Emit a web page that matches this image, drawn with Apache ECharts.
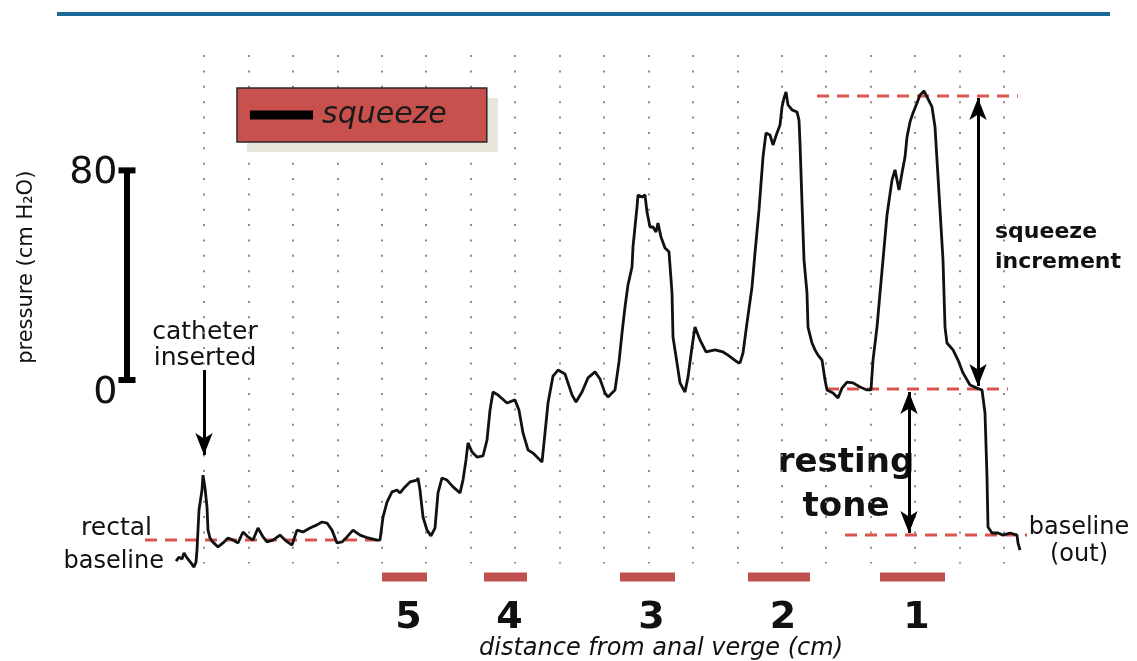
<!DOCTYPE html>
<html><head><meta charset="utf-8">
<script src="https://cdn.jsdelivr.net/npm/echarts@6/dist/echarts.min.js"></script>
<style>html,body{margin:0;padding:0;background:#fff}#c{width:1137px;height:661px}</style>
</head><body><div id="c"></div>
<script>
// pressure trace: [sample, pressure cm H2O relative to resting 0]
const trace = [
[-28,-69.1],[-25,-67.6],[-22,-68.3],[-20,-66.0],[-17,-67.9],[-15,-67.2],[-13,-69.8],[-10,-71.4],[-8,-69.5],[-7,-64.9],[-5,-49.6],[-2,-42.0],[-1,-36.3],[1,-41.2],[3,-48.5],[4,-57.3],[6,-60.3],[8,-61.5],[14,-63.7],[19,-62.2],[24,-60.3],[29,-61.1],[34,-62.2],[39,-58.0],[44,-59.9],[49,-61.1],[54,-56.5],[59,-59.9],[63,-61.8],[69,-61.1],[76,-59.2],[81,-61.1],[88,-63.0],[93,-57.3],[99,-58.0],[106,-56.5],[113,-55.3],[118,-54.2],[123,-54.6],[128,-57.3],[133,-62.2],[138,-61.8],[143,-59.9],[149,-57.3],[156,-59.2],[164,-60.3],[173,-61.1],[176,-61.1],
[179,-52.3],[183,-46.6],[188,-42.7],[193,-42.0],[196,-43.1],[201,-40.8],[206,-38.9],[213,-38.2],[214,-37.4],[216,-42.0],[219,-52.3],[223,-57.3],[227,-59.5],[231,-56.5],[234,-43.1],[238,-37.4],[243,-38.2],[249,-40.8],[256,-43.1],[259,-38.2],[262,-30.5],[264,-24.0],[268,-27.5],[273,-29.4],[279,-29.0],[283,-22.9],[286,-11.5],[289,-4.6],[294,-5.7],[303,-8.8],[311,-7.6],[315,-11.5],[319,-20.2],[324,-26.7],[329,-27.9],[338,-31.3],[340,-24.0],[344,-8.8],[349,1.5],[354,3.8],[361,2.3],[368,-5.7],[372,-8.4],[378,-4.6],[384,0.8],[391,3.1],[396,0.4],[401,-5.0],[404,-6.5],[411,-3.8],[415,6.9],[418,17.9],[421,27.9],[424,36.3],[428,43.1],[429,50.8],[431,58.4],[433,66.0],[434,70.6],[438,69.8],[441,70.6],[443,64.1],[446,58.4],[449,58.4],[452,56.5],[454,59.9],[457,54.6],[461,50.4],[465,48.9],[468,33.2],[469,16.4],[473,6.5],[476,-1.1],[481,-4.6],[484,1.1],[488,12.6],[491,20.2],[496,15.3],[502,10.7],[511,11.5],[519,10.7],[524,9.5],[533,6.9],[536,6.5],[539,10.3],[543,21.8],[548,35.5],[551,48.5],[555,64.9],[559,85.1],[562,94.3],[566,93.5],[569,89.7],[573,94.3],[576,97.3],[578,104.2],[580,107.6],[582,109.9],[584,105.0],[588,103.1],[593,102.3],[595,99.2],[596,90.5],[598,67.6],[600,45.8],[603,33.2],[604,20.2],[608,14.1],[611,11.5],[614,9.5],[618,7.6],[619,6.9],[621,0],[623,-3.8],[629,-5.0],[634,-6.9],[638,-3.1],[643,-0.8],[649,-1.1],[656,-2.7],[663,-3.8],[667,-3.8],[669,7.6],[673,20.2],[676,33.2],[679,45.8],[683,63.0],[688,76.3],[691,80.2],[695,72.5],[698,79.0],[701,85.1],[703,92.7],[706,98.5],[709,101.9],[713,105.7],[716,108.8],[720,110.3],[724,107.3],[728,104.2],[731,96.6],[733,84.0],[736,64.9],[739,45.8],[741,20.2],[743,14.1],[749,11.5],[754,7.6],[759,2.7],[766,-1.9],[773,-3.1],[778,-3.8],[781,-12.6],[783,-37.0],[784,-56.1],[788,-58.4],[794,-58.4],[799,-59.2],[806,-58.4],[813,-59.2],[814,-62.2],[816,-64.9]
];
// squeeze periods (sample ranges) and station labels (cm from anal verge)
const squeezeStart = [178, 280, 416, 544, 676];
const squeezeEnd   = [223, 323, 471, 606, 741];
const squeezeLabel = ['5', '4', '3', '2', '1'];
const squeezeLevel = -75.2;
// reference lines
const rectalBaseline  = [[-59, -61.1], [173, -61.1]];
const squeezePeakLine = [[613, 108.4], [814, 108.4]];
const restingLine     = [[623, -3.4], [804, -3.4]];
const outBaseline     = [[641, -59.2], [823, -59.2]];
// arrows
const catheterArrow   = [[0, 3.8], [0, -28.6]];
const incrementArrow  = [[774, 107.6], [774, -2.3]];
const restingArrow    = [[705, -4.6], [705, -58.4]];
// scale bar
const scaleBarX = -77;
const scaleBarTicks = [0, 80];

const FONT = 'DejaVu Sans';
const PXU = 508.3 / 194; // px per pressure unit (shared by both grids)
const chart = echarts.init(document.getElementById('c'));
const dashStyle = {color: '#d9564f', width: 3, type: [12, 8]};
function dashSeries(d) {
  return {type: 'line', xAxisIndex: 1, yAxisIndex: 1, data: d, symbol: 'none', clip: false, silent: true, z: 3, lineStyle: dashStyle};
}
const hidden = {show: false};
chart.setOption({
  animation: false,
  textStyle: {fontFamily: FONT},
  grid: [
    {left: 204, top: 55.1, width: 800, height: 508.3, outerBoundsMode: 'none'},
    {left: 54, top: 55.1, width: 1080, height: 224 * PXU, outerBoundsMode: 'none'}
  ],
  xAxis: [{
    type: 'value', gridIndex: 0, min: 0, max: 800, interval: 800 / 18,
    axisLine: hidden, axisTick: hidden, axisLabel: hidden,
    splitLine: {show: true, lineStyle: {color: '#8c8c8c', width: 2, type: [2, 13.364]}},
    name: 'distance from anal verge (cm)', nameLocation: 'middle', nameGap: 73,
    nameTextStyle: {fontSize: 24, fontStyle: 'italic', color: '#111', padding: [0, 0, 0, 114]}
  }, {
    type: 'value', gridIndex: 1, min: -150, max: 930, show: false, splitLine: hidden
  }],
  yAxis: [{
    type: 'value', gridIndex: 0, min: -70, max: 124,
    axisLine: hidden, axisTick: hidden, axisLabel: hidden, splitLine: hidden,
    name: 'pressure (cm H\u2082O)', nameLocation: 'middle', nameRotate: 90, nameGap: 167,
    nameTextStyle: {fontSize: 21, color: '#111', padding: [0, 0, 0, 84]}
  }, {
    type: 'value', gridIndex: 1, min: -100, max: 124, show: false, splitLine: hidden
  }],
  legend: {
    left: 237, top: 88, selectedMode: false,
    data: [{name: 'squeeze', icon: 'rect', itemStyle: {color: '#000'}}],
    itemWidth: 63, itemHeight: 9, padding: [12, 40, 12, 13],
    backgroundColor: '#c8514e', borderColor: '#2a2a2a', borderWidth: 1.5,
    textStyle: {fontSize: 30, fontStyle: 'italic', color: '#1a1a1a', fontFamily: FONT, padding: [0, 0, 0, 4]}
  },
  graphic: [
    {type: 'rect', z: 2, shape: {x: 247, y: 98, width: 251, height: 54}, style: {fill: '#e9e7dc'}},
    {type: 'line', shape: {x1: 57, y1: 14, x2: 1110, y2: 14}, style: {stroke: '#1a6896', lineWidth: 4}},
    {type: 'text', x: 205, y: 345, style: {text: 'catheter\ninserted', align: 'center', verticalAlign: 'middle', font: '25px "DejaVu Sans"', lineHeight: 26, fill: '#111'}},
    {type: 'text', x: 152, y: 528, style: {text: 'rectal', align: 'right', verticalAlign: 'middle', font: '25px "DejaVu Sans"', fill: '#111'}},
    {type: 'text', x: 164, y: 562, style: {text: 'baseline', align: 'right', verticalAlign: 'middle', font: '24px "DejaVu Sans"', fill: '#111'}},
    {type: 'text', x: 995, y: 247, style: {text: 'squeeze\nincrement', align: 'left', verticalAlign: 'middle', font: 'bold 22px "DejaVu Sans"', lineHeight: 30, fill: '#111'}},
    {type: 'text', x: 846, y: 485, style: {text: 'resting\ntone', align: 'center', verticalAlign: 'middle', font: 'bold 34px "DejaVu Sans"', lineHeight: 44, fill: '#111'}},
    {type: 'text', x: 1079, y: 541, style: {text: 'baseline\n(out)', align: 'center', verticalAlign: 'middle', font: '24px "DejaVu Sans"', lineHeight: 27, fill: '#111'}}
  ],
  series: [
    dashSeries(rectalBaseline),
    dashSeries(squeezePeakLine),
    dashSeries(restingLine),
    dashSeries(outBaseline),
    {
      name: 'pressure', type: 'line', xAxisIndex: 1, yAxisIndex: 1, data: trace, symbol: 'none', clip: false, z: 5,
      lineStyle: {color: '#111', width: 2.8},
      markLine: {
        silent: true, symbolSize: [13, 22], label: {show: false},
        lineStyle: {color: '#000', width: 3, type: 'solid'},
        data: [
          [{coord: catheterArrow[0], symbol: 'none'}, {coord: catheterArrow[1], symbol: 'arrow'}],
          [{coord: incrementArrow[0], symbol: 'arrow'}, {coord: incrementArrow[1], symbol: 'arrow'}],
          [{coord: restingArrow[0], symbol: 'arrow'}, {coord: restingArrow[1], symbol: 'arrow'}]
        ]
      }
    },
    {
      name: 'scale', type: 'line', xAxisIndex: 1, yAxisIndex: 1, clip: false, silent: true, z: 6,
      data: scaleBarTicks.map((v, i) => ({value: [scaleBarX, v], label: {offset: [0, i === 0 ? 13 : 3]}})),
      symbol: 'rect', symbolSize: [17, 6], showSymbol: true,
      itemStyle: {color: '#000'}, lineStyle: {color: '#000', width: 6},
      label: {show: true, position: 'left', distance: 1, fontSize: 38, color: '#111', formatter: p => String(p.value[1])}
    },
    {
      name: 'squeeze', type: 'custom', xAxisIndex: 1, yAxisIndex: 1, clip: false, z: 4,
      itemStyle: {color: '#c0504d'},
      data: squeezeStart.map((s, i) => [s, squeezeEnd[i], squeezeLevel, i]),
      encode: {x: [0, 1], y: 2},
      renderItem: function (params, api) {
        const s = api.coord([api.value(0), api.value(2)]);
        const e = api.coord([api.value(1), api.value(2)]);
        const h = 9;
        return {type: 'group', children: [
          {type: 'rect', shape: {x: s[0], y: s[1] - h / 2, width: e[0] - s[0], height: h}, style: {fill: '#c0504d'}},
          {type: 'text', style: {text: squeezeLabel[api.value(3)], x: (s[0] + e[0]) / 2 + 4, y: s[1] + 41, align: 'center', verticalAlign: 'middle', font: 'bold 38px "DejaVu Sans"', fill: '#111'}}
        ]};
      }
    }
  ]
});
</script></body></html>
